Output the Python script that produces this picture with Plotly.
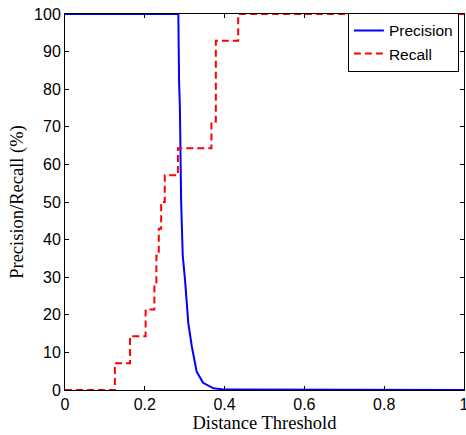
import plotly.graph_objects as go

# Precision curve (distance threshold vs %)
prec_x = [0.0, 0.284, 0.286, 0.288, 0.291, 0.295, 0.301, 0.309, 0.318, 0.330, 0.346, 0.372, 0.401, 1.0]
prec_y = [100, 100, 81.6, 75.0, 50.5, 35.9, 29.0, 17.8, 11.5, 4.9, 1.9, 0.45, 0.1, 0.0]

# Recall curve (step function)
rec_x = [0.0, 0.125, 0.163, 0.202, 0.224, 0.229, 0.235, 0.241, 0.250, 0.283, 0.367, 0.378, 0.434, 1.0]
rec_y = [0.0, 7.14, 14.29, 21.43, 28.57, 35.71, 42.86, 50.0, 57.14, 64.29, 71.43, 92.86, 100.0, 100.0]

x_ticks = [0, 0.2, 0.4, 0.6, 0.8, 1]
x_labels = ["0", "0.2", "0.4", "0.6", "0.8", "1"]
y_ticks = [0, 10, 20, 30, 40, 50, 60, 70, 80, 90, 100]

fig = go.Figure()
fig.add_trace(go.Scatter(x=prec_x, y=prec_y, mode="lines", name="Precision",
                         line=dict(color="#0000ff", width=2), cliponaxis=False))
fig.add_trace(go.Scatter(x=rec_x, y=rec_y, mode="lines", name="Recall",
                         line=dict(color="#ff0000", width=2, dash="7px,4px", shape="hv"),
                         cliponaxis=False))

axis_common = dict(showline=True, linecolor="black", linewidth=1, mirror="ticks",
                   ticks="inside", ticklen=4, tickcolor="black", showgrid=False,
                   zeroline=False, automargin=False, ticklabeloverflow="allow",
                   tickfont=dict(family="Liberation Sans, Arial", size=16, color="black"))

fig.update_layout(
    width=466, height=435,
    margin=dict(l=65, r=2, t=14, b=45),
    paper_bgcolor="white", plot_bgcolor="white",
    xaxis=dict(range=[0, 1], tickvals=x_ticks, ticktext=x_labels,
               title=dict(text="Distance Threshold", standoff=0,
                          font=dict(family="Liberation Serif, Times New Roman", size=18.5, color="black")),
               **axis_common),
    yaxis=dict(range=[0, 100], tickvals=y_ticks,
               title=dict(text="Precision/Recall (%)", standoff=5,
                          font=dict(family="Liberation Serif, Times New Roman", size=18.5, color="black")),
               **axis_common),
    legend=dict(x=0.709, y=1.003, xanchor="left", yanchor="top",
                bgcolor="white", bordercolor="black", borderwidth=1,
                font=dict(family="Liberation Sans, Arial", size=15.5, color="black"),
                tracegroupgap=0, itemwidth=30),
    showlegend=True,
)

fig.write_html("out.html", config={"displayModeBar": False},
               post_script="document.body.style.margin='0';")
